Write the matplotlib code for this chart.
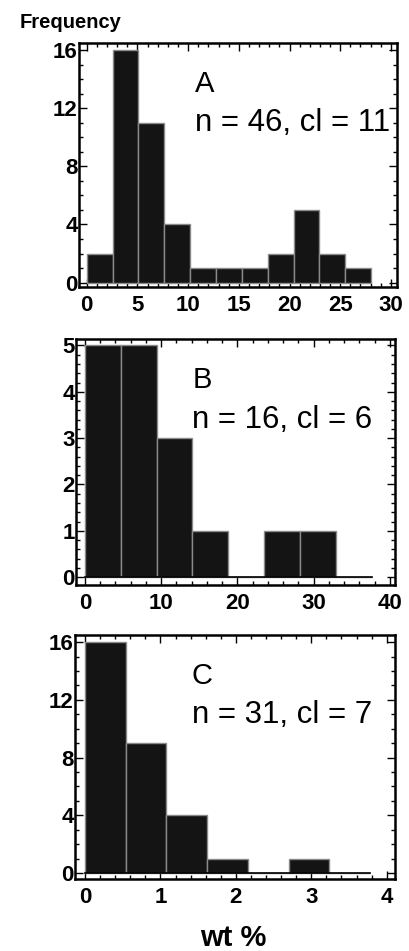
import numpy as np
import matplotlib
matplotlib.use("Agg")
import matplotlib.pyplot as plt
from matplotlib.ticker import MultipleLocator

plt.rcParams['font.family'] = ['Liberation Sans', 'DejaVu Sans']

# Panel A
a_counts = [2, 16, 11, 4, 1, 1, 1, 2, 5, 2, 1]
a_width = 2.55
# Panel B
b_counts = [5, 5, 3, 1, 0, 1, 1, 0]
b_width = 4.7
# Panel C
c_counts = [16, 9, 4, 1, 0, 1, 0]
c_width = 0.54

panel_labels = ["A", "B", "C"]
panel_notes = ["n = 46, cl = 11", "n = 16, cl = 6", "n = 31, cl = 7"]

W, H = 409, 951
fig = plt.figure(figsize=(W / 100, H / 100), dpi=100)

def rect(l, t, r, b):
    return [l / W, 1 - b / H, (r - l) / W, (b - t) / H]

specs = [
    dict(counts=a_counts, width=a_width, box=rect(79, 43, 397, 287),
         xlim=(-0.76, 30.6), ylim=(-0.3, 16.48), xmaj=5, xmin=1, ymaj=4, ymin=1,
         baseline=False),
    dict(counts=b_counts, width=b_width, box=rect(76, 339, 395, 585),
         xlim=(-1.18, 40.66), ylim=(-0.17, 5.14), xmaj=10, xmin=2, ymaj=1, ymin=0.2,
         baseline=True),
    dict(counts=c_counts, width=c_width, box=rect(75, 635, 395, 879),
         xlim=(-0.133, 4.11), ylim=(-0.42, 16.5), xmaj=1, xmin=0.2, ymaj=4, ymin=1,
         baseline=True),
]

for i, s in enumerate(specs):
    ax = fig.add_axes(s['box'])
    counts = np.array(s['counts'])
    edges = np.arange(len(counts) + 1) * s['width']
    ax.bar(edges[:-1], counts, width=s['width'], align='edge',
           facecolor='#141414', edgecolor='#8a8a8a', linewidth=1.0, zorder=2)
    if s['baseline']:
        ax.plot([edges[0], edges[-1]], [0, 0], color='black', linewidth=1.2, zorder=3)
    ax.set_xlim(*s['xlim'])
    ax.set_ylim(*s['ylim'])
    ax.xaxis.set_major_locator(MultipleLocator(s['xmaj']))
    ax.xaxis.set_minor_locator(MultipleLocator(s['xmin']))
    ax.yaxis.set_major_locator(MultipleLocator(s['ymaj']))
    ax.yaxis.set_minor_locator(MultipleLocator(s['ymin']))
    ax.tick_params(which='both', direction='in', top=True, right=True,
                   width=1.0, color='black')
    ax.tick_params(which='major', length=6, labelsize=16)
    ax.tick_params(axis='x', which='major', pad=6)
    ax.tick_params(axis='y', which='major', pad=1)
    ax.tick_params(which='minor', length=3)
    for lab in ax.get_xticklabels() + ax.get_yticklabels():
        lab.set_fontweight('bold')
    for sp in ax.spines.values():
        sp.set_linewidth(1.8)
    ax.text(0.365, 0.80, panel_labels[i], transform=ax.transAxes,
            fontsize=21, ha='left', va='baseline')
    ax.text(0.365, 0.64, panel_notes[i], transform=ax.transAxes,
            fontsize=22.5, ha='left', va='baseline')

fig.text(20 / W, 1 - 22 / H, "Frequency", fontsize=14.5, fontweight='bold',
         ha='left', va='center')
fig.text(233 / W, 1 - 938 / H, "wt %", fontsize=21, fontweight='bold',
         ha='center', va='center')

fig.savefig("out.png", dpi=100)
